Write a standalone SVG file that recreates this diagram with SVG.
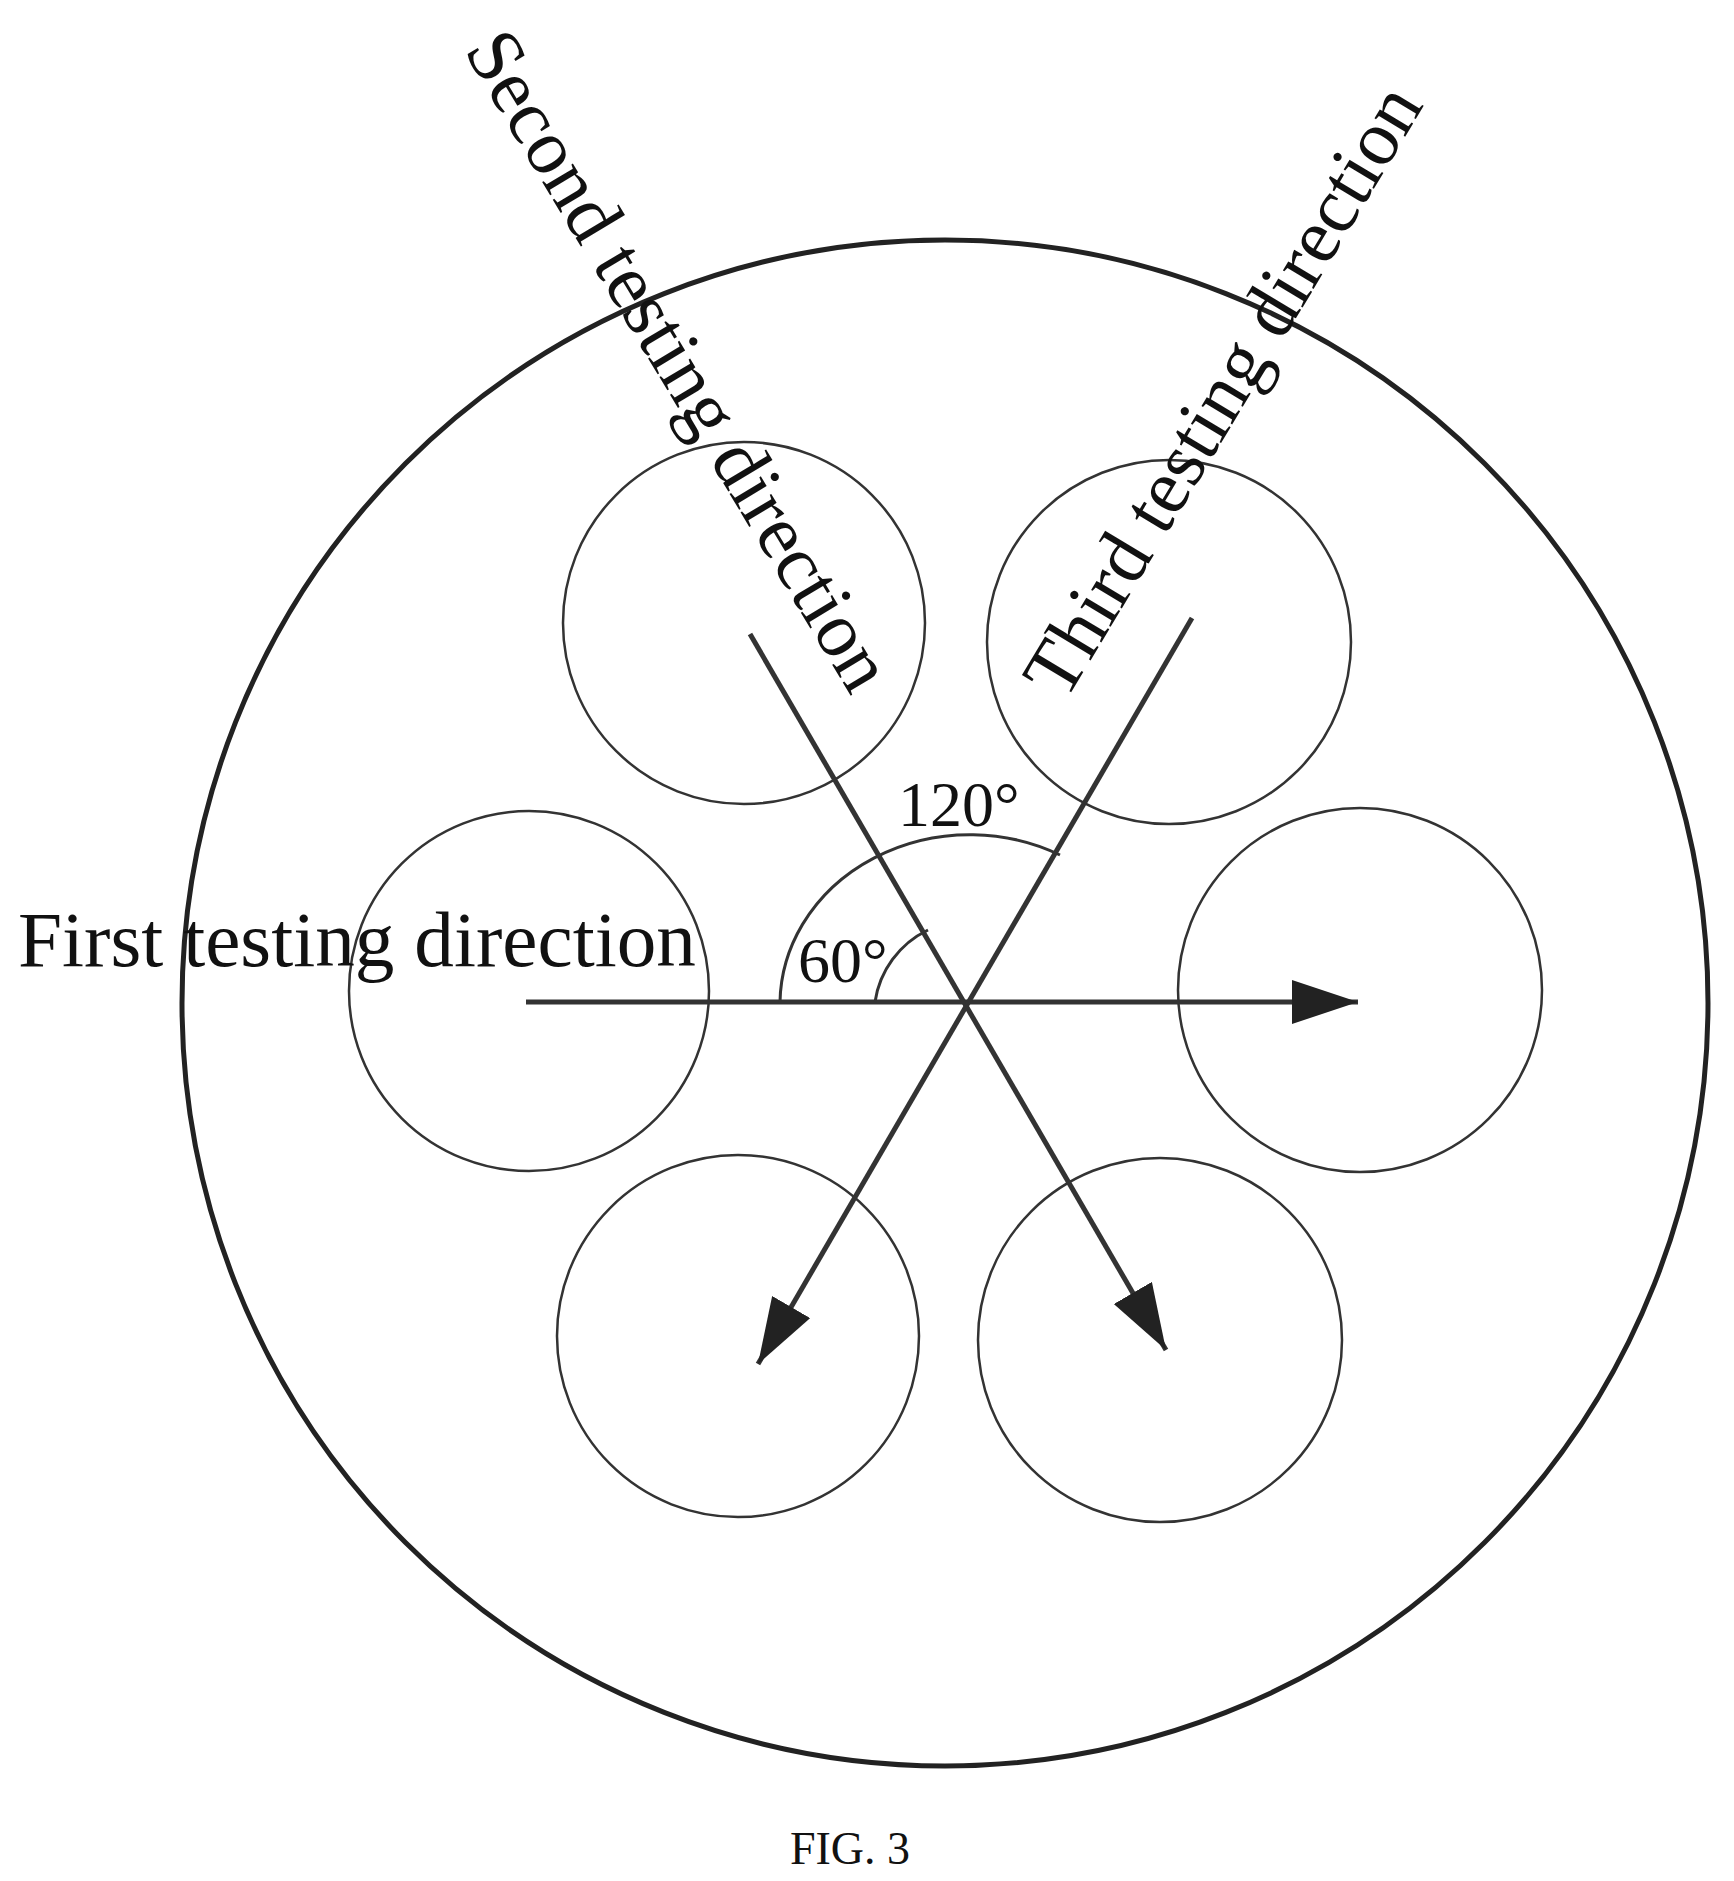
<svg xmlns="http://www.w3.org/2000/svg" width="1734" height="1881" viewBox="0 0 1734 1881">
<style>
.big{fill:none;stroke:#222;stroke-width:5}
.sm{fill:none;stroke:#333;stroke-width:2.5}
.ar{fill:none;stroke:#333;stroke-width:5}
.arc{fill:none;stroke:#333;stroke-width:3}
.t{font-family:"Liberation Serif",serif;fill:#111}
</style>
<defs>
<marker id="ah" markerUnits="userSpaceOnUse" markerWidth="70" markerHeight="50" refX="66" refY="22" orient="auto">
<path d="M0,0 L66,22 L0,44 Z" fill="#222"/>
</marker>
</defs>
<rect width="1734" height="1881" fill="#fff"/>
<g id="outer"><circle class="big" cx="945" cy="1003" r="763"/></g>
<g id="c-tl"><circle class="sm" cx="744" cy="623" r="181"/></g>
<g id="c-tr"><circle class="sm" cx="1169" cy="642" r="182"/></g>
<g id="c-l"><circle class="sm" cx="529" cy="991" r="180"/></g>
<g id="c-r"><circle class="sm" cx="1360" cy="990" r="182"/></g>
<g id="c-bl"><circle class="sm" cx="738" cy="1336" r="181"/></g>
<g id="c-br"><circle class="sm" cx="1160" cy="1340" r="182"/></g>
<g id="connectors">
<line class="ar" x1="526" y1="1002" x2="1358" y2="1002" marker-end="url(#ah)"/>
<line class="ar" x1="750" y1="634" x2="1166" y2="1350" marker-end="url(#ah)"/>
<line class="ar" x1="1192" y1="618" x2="758" y2="1364" marker-end="url(#ah)"/>
<path class="arc" d="M780,1002 A190,170 0 0 1 1060,855"/>
<path class="arc" d="M875,1002 A95,95 0 0 1 928,930"/>
</g>
<g id="labels">
<text class="t" font-size="78" x="18" y="966" textLength="678" lengthAdjust="spacingAndGlyphs">First testing direction</text>
<text class="t" font-size="78" text-anchor="middle" dominant-baseline="central" transform="translate(680,360) rotate(59)">Second testing direction</text>
<text class="t" font-size="78" text-anchor="middle" dominant-baseline="central" transform="translate(1222,390) rotate(-59)">Third testing direction</text>
<text class="t" font-size="64" x="898" y="826">120°</text>
<text class="t" font-size="64" x="798" y="982" fill="#555">60°</text>
<text class="t" font-size="46" x="850" y="1864" text-anchor="middle">FIG. 3</text>
</g>
</svg>
